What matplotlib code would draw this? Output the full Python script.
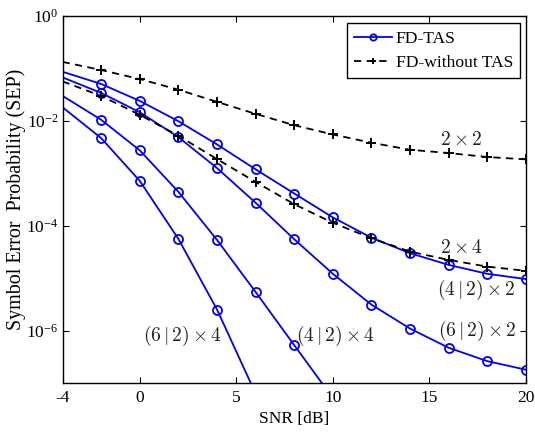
import matplotlib
matplotlib.use('Agg')
import matplotlib.pyplot as plt
from matplotlib.ticker import FixedLocator, FixedFormatter, NullLocator

plt.rcParams['font.family'] = ['Liberation Serif', 'DejaVu Serif']
plt.rcParams['mathtext.fontset'] = 'cm'
plt.rcParams['axes.unicode_minus'] = False

# SNR grid (dB)
snr = [-4, -2, 0, 2, 4, 6, 8, 10, 12, 14, 16, 18, 20]

# FD-TAS curves
sep_42x2 = [0.0867, 0.0507, 0.0241, 9.87e-3, 3.56e-3, 1.19e-3, 4.12e-4,
            1.44e-4, 5.91e-5, 2.99e-5, 1.79e-5, 1.21e-5, 9.6e-6]
sep_62x2 = [0.0676, 0.0342, 0.01463, 4.90e-3, 1.26e-3, 2.74e-4, 5.52e-5,
            1.21e-5, 3.12e-6, 1.09e-6, 4.69e-7, 2.61e-7, 1.79e-7]
sep_42x4 = [0.0300, 0.0105, 2.74e-3, 4.43e-4, 5.35e-5, 5.43e-6, 5.26e-7, 5.15e-8]
sep_62x4 = [0.0182, 4.69e-3, 7.16e-4, 5.59e-5, 2.51e-6, 6.25e-8]

# FD without TAS
sep_2x2 = [0.134, 0.0935, 0.0630, 0.0395, 0.0231, 0.01364, 8.28e-3,
           5.52e-3, 3.84e-3, 2.82e-3, 2.44e-3, 2.05e-3, 1.85e-3]
sep_2x4 = [0.0568, 0.0300, 0.01306, 5.21e-3, 1.87e-3, 6.85e-4, 2.58e-4,
           1.14e-4, 5.76e-5, 3.21e-5, 2.23e-5, 1.66e-5, 1.38e-5]

fig = plt.figure(figsize=(5.35, 4.36), dpi=100)
ax = fig.add_axes([0.117, 0.1216, 0.866, 0.8414])

blue = dict(color='b', lw=1.3, marker='o', ms=6.5, mfc='none', mew=1.3,
            markevery=slice(1, None))
dash = dict(color='k', lw=1.3, ls=(0, (4, 3)), marker='+', ms=7, mew=1.4,
            markevery=slice(1, None))

ax.plot(snr, sep_42x2, label='FD-TAS', **blue)
ax.plot(snr, sep_62x2, **blue)
ax.plot(snr[:len(sep_42x4)], sep_42x4, **blue)
ax.plot(snr[:len(sep_62x4)], sep_62x4, **blue)
ax.plot(snr, sep_2x2, label='FD-without TAS', **dash)
ax.plot(snr, sep_2x4, **dash)

ax.set_yscale('log')
ax.set_xlim(-4, 20)
ax.set_ylim(1e-7, 1)
ax.set_xticks([-4, 0, 5, 10, 15, 20])
ax.yaxis.set_major_locator(FixedLocator([1e-6, 1e-4, 1e-2, 1]))
ax.yaxis.set_major_formatter(FixedFormatter([r'$\mathregular{10^{-6}}$', r'$\mathregular{10^{-4}}$',
                                             r'$\mathregular{10^{-2}}$', r'$\mathregular{10^{0}}$']))
ax.yaxis.set_minor_locator(NullLocator())
ax.tick_params(direction='in', top=True, right=True, length=4, labelsize=12.5, pad=5)
ax.tick_params(axis='y', pad=3)
for s in ax.spines.values():
    s.set_linewidth(1.0)

ax.set_xlabel('SNR [dB]', fontsize=12.5, labelpad=4)
ax.set_ylabel('Symbol Error  Probability (SEP)', fontsize=14.4)
ax.yaxis.set_label_coords(-0.078, 0.5)

lab = dict(fontsize=14, ha='center', va='center', color='#222222')
ax.text(16.66, 4.25e-3, r'$2\times 2$', **lab)
ax.text(16.68, 3.77e-5, r'$2\times 4$', **lab)
ax.text(17.44, 6.0e-6, r'$(4\,|\,2)\times 2$', **lab)
ax.text(17.5, 9.7e-7, r'$(6\,|\,2)\times 2$', **lab)
ax.text(10.14, 7.8e-7, r'$(4\,|\,2)\times 4$', **lab)
ax.text(2.21, 7.8e-7, r'$(6\,|\,2)\times 4$', **lab)

leg = ax.legend(loc='upper right', bbox_to_anchor=(0.987, 0.98), borderaxespad=0,
                fontsize=12.6, handlelength=2.2, fancybox=False, framealpha=1,
                edgecolor='k', borderpad=0.4, labelspacing=0.45, handletextpad=0.2,
                markerscale=0.7)
leg.get_frame().set_linewidth(1.0)

fig.savefig('out.png', dpi=100)
